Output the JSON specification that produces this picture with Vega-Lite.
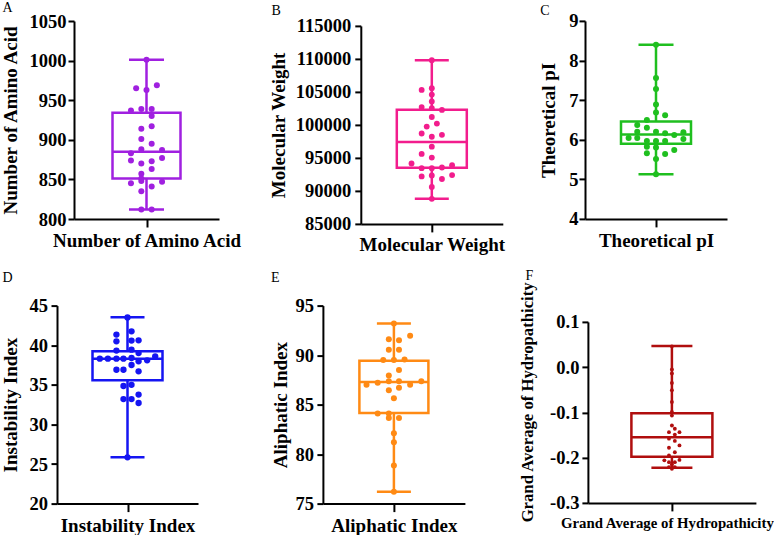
{
  "$schema": "https://vega.github.io/schema/vega-lite/v6.json",
  "background": "white",
  "padding": 0,
  "config": {
    "font": "Liberation Serif",
    "view": {"stroke": null},
    "locale": {"number": {"decimal": ".", "thousands": ",", "grouping": [3], "currency": ["$", ""], "minus": "-"}},
    "axis": {"domainColor": "black", "domainWidth": 2, "tickColor": "black", "tickWidth": 2, "tickSize": 6, "labelFont": "Liberation Serif", "labelFontWeight": "bold", "labelFontSize": 18.5, "labelColor": "black", "labelPadding": 2, "labelOverlap": false, "labelFlush": false, "titleFont": "Liberation Serif", "titleFontWeight": "bold", "titleFontSize": 19, "titleColor": "black", "grid": false},
    "title": {"font": "Liberation Serif", "fontWeight": "normal", "fontSize": 14, "color": "black", "anchor": "start", "frame": "bounds"}
  },
  "datasets": {
    "empty": [],
    "box": [
      {"p": "A", "min": 812, "q1": 851, "med": 885, "q3": 934, "max": 1001},
      {"p": "B", "min": 88800, "q1": 93500, "med": 97400, "q3": 102300, "max": 109800},
      {"p": "C", "min": 5.13, "q1": 5.9, "med": 6.13, "q3": 6.46, "max": 8.4},
      {"p": "D", "min": 25.84, "q1": 35.57, "med": 38.3, "q3": 39.23, "max": 43.52},
      {"p": "E", "min": 76.2, "q1": 84.15, "med": 87.28, "q3": 89.44, "max": 93.2},
      {"p": "F", "min": -0.2225, "q1": -0.198, "med": -0.155, "q3": -0.102, "max": 0.047}
    ],
    "pts": [
      {"p": "A", "v": 1001, "j": 0}, {"p": "A", "v": 965, "j": -2}, {"p": "A", "v": 963, "j": 0}, {"p": "A", "v": 969, "j": 2},
      {"p": "A", "v": 937, "j": -3}, {"p": "A", "v": 939, "j": -1}, {"p": "A", "v": 939, "j": 1}, {"p": "A", "v": 930, "j": 1},
      {"p": "A", "v": 914, "j": -1}, {"p": "A", "v": 917, "j": 1}, {"p": "A", "v": 901, "j": -1}, {"p": "A", "v": 895, "j": 1},
      {"p": "A", "v": 888, "j": -1}, {"p": "A", "v": 883, "j": -3}, {"p": "A", "v": 887, "j": 3}, {"p": "A", "v": 874, "j": -3},
      {"p": "A", "v": 877, "j": 3}, {"p": "A", "v": 870, "j": -1}, {"p": "A", "v": 873, "j": 1}, {"p": "A", "v": 863, "j": 1},
      {"p": "A", "v": 857, "j": -1}, {"p": "A", "v": 851, "j": -1}, {"p": "A", "v": 845, "j": -3}, {"p": "A", "v": 848, "j": -1},
      {"p": "A", "v": 841, "j": 1}, {"p": "A", "v": 847, "j": 3}, {"p": "A", "v": 835, "j": -1}, {"p": "A", "v": 812, "j": -1},
      {"p": "A", "v": 812, "j": 1},
      {"p": "B", "v": 109800, "j": 0}, {"p": "B", "v": 105300, "j": -2}, {"p": "B", "v": 105550, "j": 0}, {"p": "B", "v": 104600, "j": 0},
      {"p": "B", "v": 103550, "j": 0}, {"p": "B", "v": 102700, "j": -2}, {"p": "B", "v": 102550, "j": 0}, {"p": "B", "v": 102270, "j": 2},
      {"p": "B", "v": 101200, "j": 0}, {"p": "B", "v": 100200, "j": 1}, {"p": "B", "v": 99750, "j": -1}, {"p": "B", "v": 98700, "j": -2},
      {"p": "B", "v": 98490, "j": 2}, {"p": "B", "v": 98200, "j": 0}, {"p": "B", "v": 96700, "j": 0}, {"p": "B", "v": 95600, "j": -2},
      {"p": "B", "v": 95050, "j": 0}, {"p": "B", "v": 94150, "j": -4}, {"p": "B", "v": 93450, "j": -2}, {"p": "B", "v": 93450, "j": 0},
      {"p": "B", "v": 93550, "j": 2}, {"p": "B", "v": 93900, "j": 4}, {"p": "B", "v": 92200, "j": -2}, {"p": "B", "v": 92350, "j": 0},
      {"p": "B", "v": 91800, "j": 2}, {"p": "B", "v": 92400, "j": 4}, {"p": "B", "v": 90600, "j": 0}, {"p": "B", "v": 88800, "j": 0},
      {"p": "C", "v": 8.4, "j": 0}, {"p": "C", "v": 7.56, "j": 0}, {"p": "C", "v": 7.28, "j": 0}, {"p": "C", "v": 6.89, "j": 0},
      {"p": "C", "v": 6.69, "j": 0}, {"p": "C", "v": 6.62, "j": 1.8}, {"p": "C", "v": 6.5, "j": -1.8}, {"p": "C", "v": 6.37, "j": -3.7},
      {"p": "C", "v": 6.3, "j": -1.8}, {"p": "C", "v": 6.2, "j": -3.7}, {"p": "C", "v": 6.2, "j": 0}, {"p": "C", "v": 6.16, "j": 1.8},
      {"p": "C", "v": 6.12, "j": 3.6}, {"p": "C", "v": 6.19, "j": 5.4}, {"p": "C", "v": 6.04, "j": -5.4}, {"p": "C", "v": 6.04, "j": -3.7},
      {"p": "C", "v": 5.97, "j": -1.8}, {"p": "C", "v": 5.97, "j": 0}, {"p": "C", "v": 5.97, "j": 1.8}, {"p": "C", "v": 6.02, "j": 5.4},
      {"p": "C", "v": 5.82, "j": -1.8}, {"p": "C", "v": 5.8, "j": 0}, {"p": "C", "v": 5.66, "j": -1.8}, {"p": "C", "v": 5.74, "j": 3.6},
      {"p": "C", "v": 5.64, "j": 1.8}, {"p": "C", "v": 5.51, "j": 0}, {"p": "C", "v": 5.13, "j": 0},
      {"p": "D", "v": 43.5, "j": 0}, {"p": "D", "v": 41.75, "j": 0.8}, {"p": "D", "v": 41.34, "j": -2.2}, {"p": "D", "v": 40.49, "j": -2.2},
      {"p": "D", "v": 40.58, "j": 0.8}, {"p": "D", "v": 40.62, "j": 2.2}, {"p": "D", "v": 39.32, "j": -2.2}, {"p": "D", "v": 39.44, "j": 0.8},
      {"p": "D", "v": 39.0, "j": 2.2}, {"p": "D", "v": 38.3, "j": -5.5}, {"p": "D", "v": 38.3, "j": -3.9}, {"p": "D", "v": 38.3, "j": -2.2},
      {"p": "D", "v": 38.3, "j": -0.8}, {"p": "D", "v": 38.38, "j": 0.8}, {"p": "D", "v": 37.97, "j": 2.2}, {"p": "D", "v": 38.09, "j": 3.9},
      {"p": "D", "v": 38.6, "j": 5.5}, {"p": "D", "v": 36.9, "j": -2.2}, {"p": "D", "v": 36.9, "j": -0.8}, {"p": "D", "v": 37.5, "j": 0.8},
      {"p": "D", "v": 36.7, "j": 2.2}, {"p": "D", "v": 34.85, "j": -0.8}, {"p": "D", "v": 35.0, "j": 0.8}, {"p": "D", "v": 33.2, "j": -0.8},
      {"p": "D", "v": 33.2, "j": 0.8}, {"p": "D", "v": 33.76, "j": 2.2}, {"p": "D", "v": 32.7, "j": 2.2}, {"p": "D", "v": 25.84, "j": 0},
      {"p": "E", "v": 93.2, "j": 0}, {"p": "E", "v": 91.6, "j": -1}, {"p": "E", "v": 91.5, "j": 1}, {"p": "E", "v": 91.95, "j": 3.2},
      {"p": "E", "v": 90.55, "j": -1}, {"p": "E", "v": 90.55, "j": 1}, {"p": "E", "v": 89.5, "j": -2.1}, {"p": "E", "v": 89.5, "j": 0},
      {"p": "E", "v": 89.55, "j": 2.1}, {"p": "E", "v": 88.5, "j": 1}, {"p": "E", "v": 87.95, "j": -1}, {"p": "E", "v": 87.0, "j": -5.4},
      {"p": "E", "v": 87.2, "j": -3.2}, {"p": "E", "v": 87.35, "j": -1}, {"p": "E", "v": 87.35, "j": 1}, {"p": "E", "v": 87.0, "j": 3.2},
      {"p": "E", "v": 87.35, "j": 5.4}, {"p": "E", "v": 86.45, "j": -1}, {"p": "E", "v": 86.7, "j": 1}, {"p": "E", "v": 85.65, "j": 0},
      {"p": "E", "v": 84.1, "j": -3.2}, {"p": "E", "v": 84.1, "j": -1}, {"p": "E", "v": 83.65, "j": -1}, {"p": "E", "v": 83.65, "j": 1},
      {"p": "E", "v": 82.1, "j": 0}, {"p": "E", "v": 81.2, "j": 0}, {"p": "E", "v": 78.85, "j": 0}, {"p": "E", "v": 76.2, "j": 0},
      {"p": "F", "v": 0.046, "j": 0}, {"p": "F", "v": -0.005, "j": 0}, {"p": "F", "v": -0.014, "j": 0}, {"p": "F", "v": -0.035, "j": 0},
      {"p": "F", "v": -0.051, "j": 0}, {"p": "F", "v": -0.077, "j": 0}, {"p": "F", "v": -0.099, "j": 0}, {"p": "F", "v": -0.107, "j": 0},
      {"p": "F", "v": -0.129, "j": 0}, {"p": "F", "v": -0.1436, "j": -0.7}, {"p": "F", "v": -0.136, "j": 0.7}, {"p": "F", "v": -0.1436, "j": 1.8},
      {"p": "F", "v": -0.149, "j": 0.7}, {"p": "F", "v": -0.158, "j": -0.7}, {"p": "F", "v": -0.163, "j": 0.7}, {"p": "F", "v": -0.173, "j": 1.8},
      {"p": "F", "v": -0.178, "j": -0.7}, {"p": "F", "v": -0.188, "j": 0.7}, {"p": "F", "v": -0.195, "j": -0.7}, {"p": "F", "v": -0.205, "j": 1.8},
      {"p": "F", "v": -0.206, "j": -1.8}, {"p": "F", "v": -0.21, "j": -0.7}, {"p": "F", "v": -0.21, "j": 0.7}, {"p": "F", "v": -0.215, "j": 0},
      {"p": "F", "v": -0.221, "j": -0.7}, {"p": "F", "v": -0.221, "j": 0.7}, {"p": "F", "v": -0.2247, "j": 0}
    ]
  },
  "spacing": 0,
  "vconcat": [
    {
      "spacing": 0,
      "hconcat": [
        {"spacing": 0, "vconcat": [
          {"width": 1, "height": 1, "data": {"name": "empty"}, "mark": "point"},
          {"spacing": 0, "hconcat": [
            {"width": 1, "height": 1, "data": {"name": "empty"}, "mark": "point"},
            {
              "title": {"text": "A", "offset": -3.3, "dx": 0.8},
              "width": 145, "height": 198,
              "layer": [
                {"data": {"name": "box"}, "transform": [{"filter": "datum.p === 'A'"}],
                 "mark": {"type": "rule", "color": "#A020E0", "strokeWidth": 2.5},
                 "encoding": {
                   "x": {"datum": 0, "type": "quantitative", "title": "Number of Amino Acid", "scale": {"domain": [-12.08, 12.08]}, "axis": {"values": [0], "labels": false, "tickSize": 8, "titlePadding": 3.5}},
                   "y": {"field": "min", "type": "quantitative", "title": "Number of Amino Acid", "scale": {"domain": [800, 1050], "nice": false, "zero": false}, "axis": {"values": [800, 850, 900, 950, 1000, 1050], "tickCount": 20, "format": "d", "labelOverlap": false, "labelPadding": 2, "titlePadding": 8.4}},
                   "y2": {"field": "max"}}},
                {"data": {"name": "box"}, "transform": [{"filter": "datum.p === 'A'"}],
                 "mark": {"type": "bar", "size": 68, "fill": "white", "stroke": "#A020E0", "strokeWidth": 2.5},
                 "encoding": {"x": {"datum": 0, "type": "quantitative", "title": "Number of Amino Acid"}, "y": {"field": "q1", "type": "quantitative", "title": "Number of Amino Acid"}, "y2": {"field": "q3"}}},
                {"data": {"name": "box"}, "transform": [{"filter": "datum.p === 'A'"}],
                 "mark": {"type": "tick", "orient": "horizontal", "size": 68, "thickness": 2.5, "color": "#A020E0", "opacity": 1},
                 "encoding": {"x": {"datum": 0, "type": "quantitative", "title": "Number of Amino Acid"}, "y": {"field": "med", "type": "quantitative", "title": "Number of Amino Acid"}}},
                {"data": {"name": "box"}, "transform": [{"filter": "datum.p === 'A'"}],
                 "mark": {"type": "tick", "orient": "horizontal", "size": 35, "thickness": 2.5, "color": "#A020E0", "opacity": 1},
                 "encoding": {"x": {"datum": 0, "type": "quantitative", "title": "Number of Amino Acid"}, "y": {"field": "min", "type": "quantitative", "title": "Number of Amino Acid"}}},
                {"data": {"name": "box"}, "transform": [{"filter": "datum.p === 'A'"}],
                 "mark": {"type": "tick", "orient": "horizontal", "size": 35, "thickness": 2.5, "color": "#A020E0", "opacity": 1},
                 "encoding": {"x": {"datum": 0, "type": "quantitative", "title": "Number of Amino Acid"}, "y": {"field": "max", "type": "quantitative", "title": "Number of Amino Acid"}}},
                {"data": {"name": "pts"}, "transform": [{"filter": "datum.p === 'A'"}],
                 "mark": {"type": "circle", "size": 36, "color": "#A020E0", "opacity": 1},
                 "encoding": {"x": {"field": "j", "type": "quantitative", "title": "Number of Amino Acid"}, "y": {"field": "v", "type": "quantitative", "title": "Number of Amino Acid"}}}
              ]
            }
          ]}
        ]},
        {"spacing": 2.9, "vconcat": [
          {"width": 1, "height": 1, "data": {"name": "empty"}, "mark": "point"},
          {"spacing": 25.8, "hconcat": [
            {"width": 1, "height": 1, "data": {"name": "empty"}, "mark": "point"},
            {
              "title": {"text": "B", "offset": -1, "dx": 2},
              "width": 142, "height": 198,
              "layer": [
                {"data": {"name": "box"}, "transform": [{"filter": "datum.p === 'B'"}],
                 "mark": {"type": "rule", "color": "#F21D8D", "strokeWidth": 2.5},
                 "encoding": {
                   "x": {"datum": 0, "type": "quantitative", "title": "Molecular Weight", "scale": {"domain": [-11.83, 11.83]}, "axis": {"values": [0], "labels": false, "tickSize": 8, "titlePadding": 2.5}},
                   "y": {"field": "min", "type": "quantitative", "title": "Molecular Weight", "scale": {"domain": [85000, 115000], "nice": false, "zero": false}, "axis": {"values": [85000, 90000, 95000, 100000, 105000, 110000, 115000], "tickCount": 20, "format": "d", "labelOverlap": false, "labelPadding": 4, "titlePadding": 6.7}},
                   "y2": {"field": "max"}}},
                {"data": {"name": "box"}, "transform": [{"filter": "datum.p === 'B'"}],
                 "mark": {"type": "bar", "size": 70, "fill": "white", "stroke": "#F21D8D", "strokeWidth": 2.5},
                 "encoding": {"x": {"datum": 0, "type": "quantitative", "title": "Molecular Weight"}, "y": {"field": "q1", "type": "quantitative", "title": "Molecular Weight"}, "y2": {"field": "q3"}}},
                {"data": {"name": "box"}, "transform": [{"filter": "datum.p === 'B'"}],
                 "mark": {"type": "tick", "orient": "horizontal", "size": 70, "thickness": 2.5, "color": "#F21D8D", "opacity": 1},
                 "encoding": {"x": {"datum": 0, "type": "quantitative", "title": "Molecular Weight"}, "y": {"field": "med", "type": "quantitative", "title": "Molecular Weight"}}},
                {"data": {"name": "box"}, "transform": [{"filter": "datum.p === 'B'"}],
                 "mark": {"type": "tick", "orient": "horizontal", "size": 34, "thickness": 2.5, "color": "#F21D8D", "opacity": 1},
                 "encoding": {"x": {"datum": 0, "type": "quantitative", "title": "Molecular Weight"}, "y": {"field": "min", "type": "quantitative", "title": "Molecular Weight"}}},
                {"data": {"name": "box"}, "transform": [{"filter": "datum.p === 'B'"}],
                 "mark": {"type": "tick", "orient": "horizontal", "size": 34, "thickness": 2.5, "color": "#F21D8D", "opacity": 1},
                 "encoding": {"x": {"datum": 0, "type": "quantitative", "title": "Molecular Weight"}, "y": {"field": "max", "type": "quantitative", "title": "Molecular Weight"}}},
                {"data": {"name": "pts"}, "transform": [{"filter": "datum.p === 'B'"}],
                 "mark": {"type": "circle", "size": 34, "color": "#F21D8D", "opacity": 1},
                 "encoding": {"x": {"field": "j", "type": "quantitative", "title": "Molecular Weight"}, "y": {"field": "v", "type": "quantitative", "title": "Molecular Weight"}}}
              ]
            }
          ]}
        ]},
        {"spacing": 2.9, "vconcat": [
          {"width": 1, "height": 1, "data": {"name": "empty"}, "mark": "point"},
          {"spacing": 33, "hconcat": [
            {"width": 1, "height": 1, "data": {"name": "empty"}, "mark": "point"},
            {
              "title": {"text": "C", "offset": -6.3, "dx": 1},
              "width": 142, "height": 198,
              "layer": [
                {"data": {"name": "box"}, "transform": [{"filter": "datum.p === 'C'"}],
                 "mark": {"type": "rule", "color": "#1FBF1F", "strokeWidth": 2.5},
                 "encoding": {
                   "x": {"datum": 0, "type": "quantitative", "title": "Theoretical pI", "scale": {"domain": [-11.83, 11.83]}, "axis": {"values": [0], "labels": false, "tickSize": 8, "titlePadding": 4}},
                   "y": {"field": "min", "type": "quantitative", "title": "Theoretical pI", "scale": {"domain": [4, 9], "nice": false, "zero": false}, "axis": {"values": [4, 5, 6, 7, 8, 9], "tickCount": 20, "format": "d", "labelOverlap": false, "labelPadding": 1, "titlePadding": 10.4}},
                   "y2": {"field": "max"}}},
                {"data": {"name": "box"}, "transform": [{"filter": "datum.p === 'C'"}],
                 "mark": {"type": "bar", "size": 70, "fill": "white", "stroke": "#1FBF1F", "strokeWidth": 2.5},
                 "encoding": {"x": {"datum": 0, "type": "quantitative", "title": "Theoretical pI"}, "y": {"field": "q1", "type": "quantitative", "title": "Theoretical pI"}, "y2": {"field": "q3"}}},
                {"data": {"name": "box"}, "transform": [{"filter": "datum.p === 'C'"}],
                 "mark": {"type": "tick", "orient": "horizontal", "size": 70, "thickness": 2.5, "color": "#1FBF1F", "opacity": 1},
                 "encoding": {"x": {"datum": 0, "type": "quantitative", "title": "Theoretical pI"}, "y": {"field": "med", "type": "quantitative", "title": "Theoretical pI"}}},
                {"data": {"name": "box"}, "transform": [{"filter": "datum.p === 'C'"}],
                 "mark": {"type": "tick", "orient": "horizontal", "size": 35, "thickness": 2.5, "color": "#1FBF1F", "opacity": 1},
                 "encoding": {"x": {"datum": 0, "type": "quantitative", "title": "Theoretical pI"}, "y": {"field": "min", "type": "quantitative", "title": "Theoretical pI"}}},
                {"data": {"name": "box"}, "transform": [{"filter": "datum.p === 'C'"}],
                 "mark": {"type": "tick", "orient": "horizontal", "size": 35, "thickness": 2.5, "color": "#1FBF1F", "opacity": 1},
                 "encoding": {"x": {"datum": 0, "type": "quantitative", "title": "Theoretical pI"}, "y": {"field": "max", "type": "quantitative", "title": "Theoretical pI"}}},
                {"data": {"name": "pts"}, "transform": [{"filter": "datum.p === 'C'"}],
                 "mark": {"type": "circle", "size": 36, "color": "#1FBF1F", "opacity": 1},
                 "encoding": {"x": {"field": "j", "type": "quantitative", "title": "Theoretical pI"}, "y": {"field": "v", "type": "quantitative", "title": "Theoretical pI"}}}
              ]
            }
          ]}
        ]}
      ]
    },
    {
      "spacing": 0,
      "hconcat": [
        {"spacing": 14.6, "vconcat": [
          {"width": 1, "height": 1, "data": {"name": "empty"}, "mark": "point"},
          {"spacing": 0, "hconcat": [
            {"width": 1, "height": 1, "data": {"name": "empty"}, "mark": "point"},
            {
              "title": {"text": "D", "offset": 11.6, "dx": 1.5},
              "width": 141, "height": 198,
              "layer": [
                {"data": {"name": "box"}, "transform": [{"filter": "datum.p === 'D'"}],
                 "mark": {"type": "rule", "color": "#1515F2", "strokeWidth": 2.5},
                 "encoding": {
                   "x": {"datum": 0, "type": "quantitative", "title": "Instability Index", "scale": {"domain": [-11.75, 11.75]}, "axis": {"values": [0], "labels": false, "tickSize": 8, "titlePadding": 3.5}},
                   "y": {"field": "min", "type": "quantitative", "title": "Instability Index", "scale": {"domain": [20, 45], "nice": false, "zero": false}, "axis": {"values": [20, 25, 30, 35, 40, 45], "tickCount": 20, "format": "d", "labelOverlap": false, "labelPadding": 3.5, "titlePadding": 9}},
                   "y2": {"field": "max"}}},
                {"data": {"name": "box"}, "transform": [{"filter": "datum.p === 'D'"}],
                 "mark": {"type": "bar", "size": 70, "fill": "white", "stroke": "#1515F2", "strokeWidth": 2.5},
                 "encoding": {"x": {"datum": 0, "type": "quantitative", "title": "Instability Index"}, "y": {"field": "q1", "type": "quantitative", "title": "Instability Index"}, "y2": {"field": "q3"}}},
                {"data": {"name": "box"}, "transform": [{"filter": "datum.p === 'D'"}],
                 "mark": {"type": "tick", "orient": "horizontal", "size": 70, "thickness": 2.5, "color": "#1515F2", "opacity": 1},
                 "encoding": {"x": {"datum": 0, "type": "quantitative", "title": "Instability Index"}, "y": {"field": "med", "type": "quantitative", "title": "Instability Index"}}},
                {"data": {"name": "box"}, "transform": [{"filter": "datum.p === 'D'"}],
                 "mark": {"type": "tick", "orient": "horizontal", "size": 34, "thickness": 2.5, "color": "#1515F2", "opacity": 1},
                 "encoding": {"x": {"datum": 0, "type": "quantitative", "title": "Instability Index"}, "y": {"field": "min", "type": "quantitative", "title": "Instability Index"}}},
                {"data": {"name": "box"}, "transform": [{"filter": "datum.p === 'D'"}],
                 "mark": {"type": "tick", "orient": "horizontal", "size": 34, "thickness": 2.5, "color": "#1515F2", "opacity": 1},
                 "encoding": {"x": {"datum": 0, "type": "quantitative", "title": "Instability Index"}, "y": {"field": "max", "type": "quantitative", "title": "Instability Index"}}},
                {"data": {"name": "pts"}, "transform": [{"filter": "datum.p === 'D'"}],
                 "mark": {"type": "circle", "size": 40, "color": "#1515F2", "opacity": 1},
                 "encoding": {"x": {"field": "j", "type": "quantitative", "title": "Instability Index"}, "y": {"field": "v", "type": "quantitative", "title": "Instability Index"}}}
              ]
            }
          ]}
        ]},
        {"spacing": 14.6, "vconcat": [
          {"width": 1, "height": 1, "data": {"name": "empty"}, "mark": "point"},
          {"spacing": 71.9, "hconcat": [
            {"width": 1, "height": 1, "data": {"name": "empty"}, "mark": "point"},
            {
              "title": {"text": "E", "offset": 11.6, "dx": 0},
              "width": 142, "height": 198,
              "layer": [
                {"data": {"name": "box"}, "transform": [{"filter": "datum.p === 'E'"}],
                 "mark": {"type": "rule", "color": "#FF8A14", "strokeWidth": 2.5},
                 "encoding": {
                   "x": {"datum": 0, "type": "quantitative", "title": "Aliphatic Index", "scale": {"domain": [-11.83, 11.83]}, "axis": {"values": [0], "labels": false, "tickSize": 8, "titlePadding": 3.5}},
                   "y": {"field": "min", "type": "quantitative", "title": "Aliphatic Index", "scale": {"domain": [75, 95], "nice": false, "zero": false}, "axis": {"values": [75, 80, 85, 90, 95], "tickCount": 20, "format": "d", "labelOverlap": false, "labelPadding": 3.3, "titlePadding": 5.1}},
                   "y2": {"field": "max"}}},
                {"data": {"name": "box"}, "transform": [{"filter": "datum.p === 'E'"}],
                 "mark": {"type": "bar", "size": 69, "fill": "white", "stroke": "#FF8A14", "strokeWidth": 2.5},
                 "encoding": {"x": {"datum": 0, "type": "quantitative", "title": "Aliphatic Index"}, "y": {"field": "q1", "type": "quantitative", "title": "Aliphatic Index"}, "y2": {"field": "q3"}}},
                {"data": {"name": "box"}, "transform": [{"filter": "datum.p === 'E'"}],
                 "mark": {"type": "tick", "orient": "horizontal", "size": 69, "thickness": 2.5, "color": "#FF8A14", "opacity": 1},
                 "encoding": {"x": {"datum": 0, "type": "quantitative", "title": "Aliphatic Index"}, "y": {"field": "med", "type": "quantitative", "title": "Aliphatic Index"}}},
                {"data": {"name": "box"}, "transform": [{"filter": "datum.p === 'E'"}],
                 "mark": {"type": "tick", "orient": "horizontal", "size": 34, "thickness": 2.5, "color": "#FF8A14", "opacity": 1},
                 "encoding": {"x": {"datum": 0, "type": "quantitative", "title": "Aliphatic Index"}, "y": {"field": "min", "type": "quantitative", "title": "Aliphatic Index"}}},
                {"data": {"name": "box"}, "transform": [{"filter": "datum.p === 'E'"}],
                 "mark": {"type": "tick", "orient": "horizontal", "size": 34, "thickness": 2.5, "color": "#FF8A14", "opacity": 1},
                 "encoding": {"x": {"datum": 0, "type": "quantitative", "title": "Aliphatic Index"}, "y": {"field": "max", "type": "quantitative", "title": "Aliphatic Index"}}},
                {"data": {"name": "pts"}, "transform": [{"filter": "datum.p === 'E'"}],
                 "mark": {"type": "circle", "size": 36, "color": "#FF8A14", "opacity": 1},
                 "encoding": {"x": {"field": "j", "type": "quantitative", "title": "Aliphatic Index"}, "y": {"field": "v", "type": "quantitative", "title": "Aliphatic Index"}}}
              ]
            }
          ]}
        ]},
        {"spacing": 12.9, "vconcat": [
          {"width": 1, "height": 1, "data": {"name": "empty"}, "mark": "point"},
          {"spacing": 52.9, "hconcat": [
            {"width": 1, "height": 1, "data": {"name": "empty"}, "mark": "point"},
            {
              "title": {"text": "F", "offset": -1.5, "dx": 6},
              "width": 168, "height": 181,
              "layer": [
                {"mark": {"type": "rule", "color": "#222222", "strokeWidth": 1.5, "strokeDash": [2, 2.5]},
                 "encoding": {"y": {"datum": 0, "type": "quantitative", "title": "Grand Average of Hydropathicity"}}},
                {"data": {"name": "box"}, "transform": [{"filter": "datum.p === 'F'"}],
                 "mark": {"type": "rule", "color": "#B00E0E", "strokeWidth": 2.5},
                 "encoding": {
                   "x": {"datum": 0, "type": "quantitative", "title": "Grand Average of Hydropathicity", "scale": {"domain": [-14, 14]}, "axis": {"values": [0], "labels": false, "tickSize": 8, "titlePadding": 4, "titleFontSize": 14.8, "titleX": 79}},
                   "y": {"field": "min", "type": "quantitative", "title": "Grand Average of Hydropathicity", "scale": {"domain": [-0.3, 0.1], "nice": false, "zero": false}, "axis": {"values": [-0.3, -0.2, -0.1, 0, 0.1], "tickCount": 20, "format": ".1f", "labelOverlap": false, "labelPadding": 3, "titlePadding": 13.1, "titleFontSize": 16.7, "titleY": 80}},
                   "y2": {"field": "max"}}},
                {"data": {"name": "box"}, "transform": [{"filter": "datum.p === 'F'"}],
                 "mark": {"type": "bar", "size": 81, "fill": "white", "stroke": "#B00E0E", "strokeWidth": 2.5},
                 "encoding": {"x": {"datum": 0, "type": "quantitative", "title": "Grand Average of Hydropathicity"}, "y": {"field": "q1", "type": "quantitative", "title": "Grand Average of Hydropathicity"}, "y2": {"field": "q3"}}},
                {"data": {"name": "box"}, "transform": [{"filter": "datum.p === 'F'"}],
                 "mark": {"type": "tick", "orient": "horizontal", "size": 81, "thickness": 2.5, "color": "#B00E0E", "opacity": 1},
                 "encoding": {"x": {"datum": 0, "type": "quantitative", "title": "Grand Average of Hydropathicity"}, "y": {"field": "med", "type": "quantitative", "title": "Grand Average of Hydropathicity"}}},
                {"data": {"name": "box"}, "transform": [{"filter": "datum.p === 'F'"}],
                 "mark": {"type": "tick", "orient": "horizontal", "size": 41, "thickness": 2.5, "color": "#B00E0E", "opacity": 1},
                 "encoding": {"x": {"datum": 0, "type": "quantitative", "title": "Grand Average of Hydropathicity"}, "y": {"field": "min", "type": "quantitative", "title": "Grand Average of Hydropathicity"}}},
                {"data": {"name": "box"}, "transform": [{"filter": "datum.p === 'F'"}],
                 "mark": {"type": "tick", "orient": "horizontal", "size": 41, "thickness": 2.5, "color": "#B00E0E", "opacity": 1},
                 "encoding": {"x": {"datum": 0, "type": "quantitative", "title": "Grand Average of Hydropathicity"}, "y": {"field": "max", "type": "quantitative", "title": "Grand Average of Hydropathicity"}}},
                {"data": {"name": "pts"}, "transform": [{"filter": "datum.p === 'F'"}],
                 "mark": {"type": "circle", "size": 15, "color": "#B00E0E", "opacity": 1},
                 "encoding": {"x": {"field": "j", "type": "quantitative", "title": "Grand Average of Hydropathicity"}, "y": {"field": "v", "type": "quantitative", "title": "Grand Average of Hydropathicity"}}}
              ]
            }
          ]}
        ]}
      ]
    }
  ]
}
